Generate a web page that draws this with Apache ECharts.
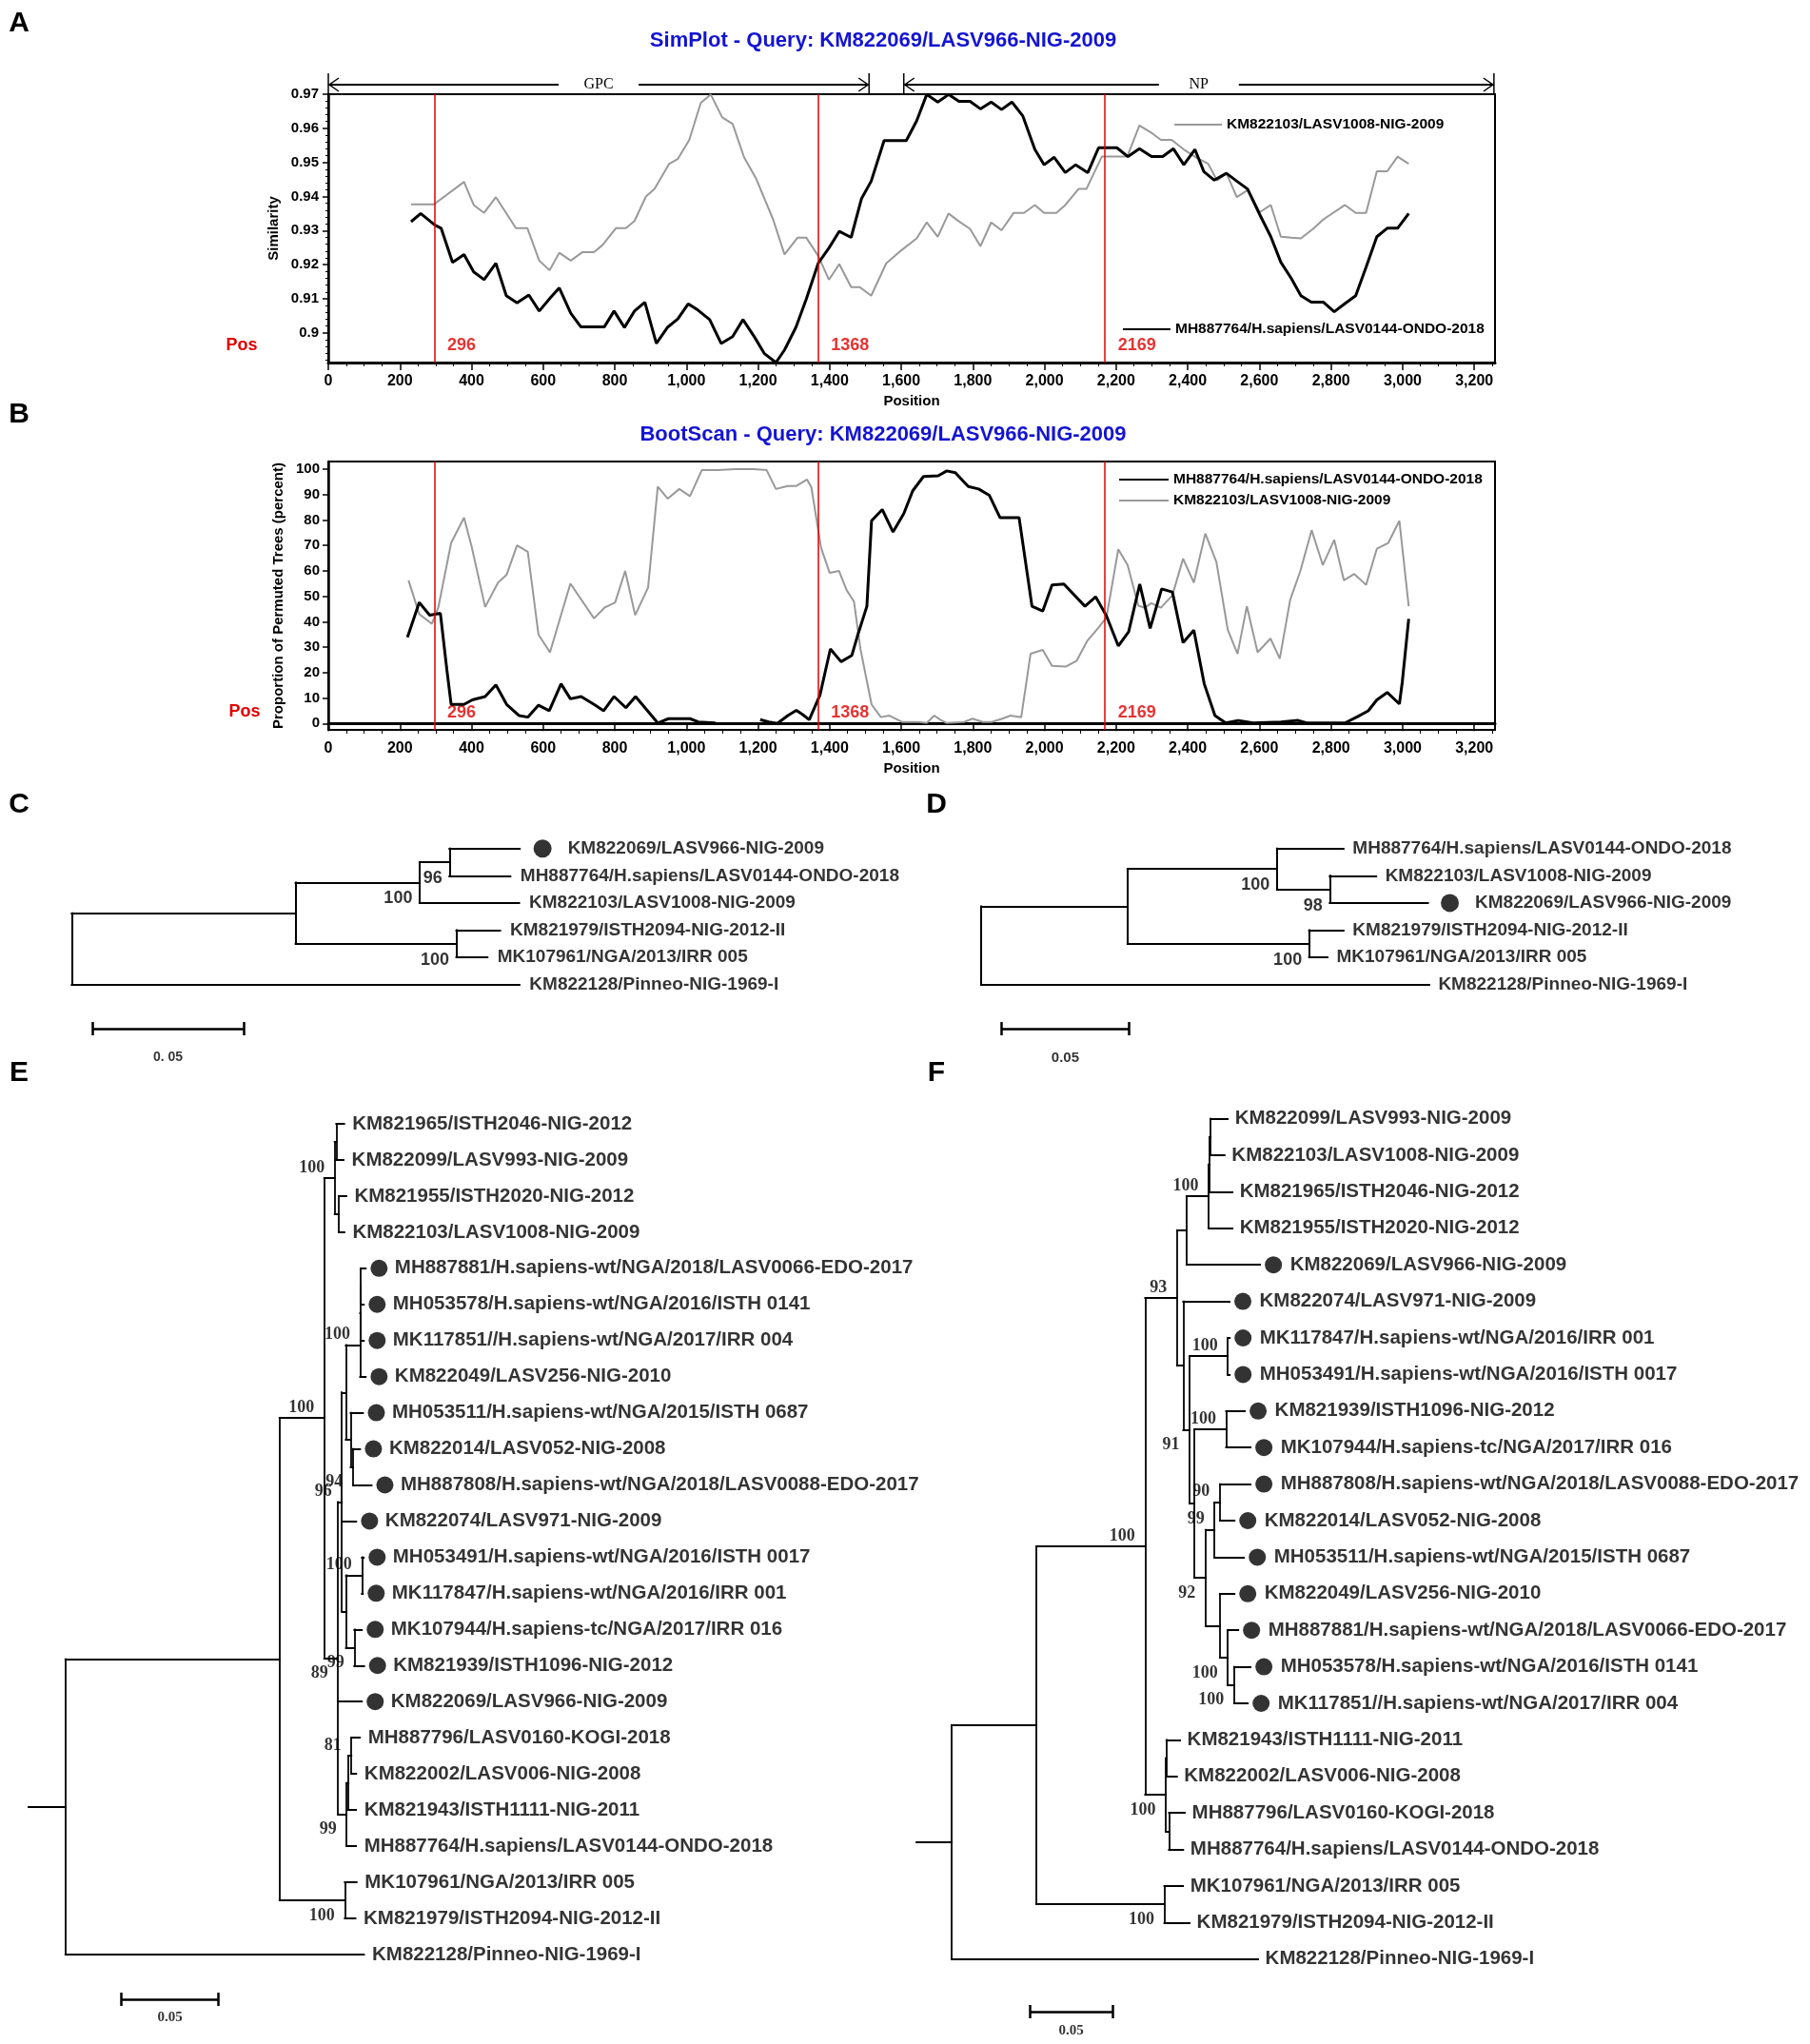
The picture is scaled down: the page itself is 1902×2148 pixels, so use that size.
<!DOCTYPE html>
<html>
<head>
<meta charset="utf-8">
<script src="https://cdn.jsdelivr.net/npm/echarts/dist/echarts.min.js"></script>
<style>
  html, body { margin: 0; padding: 0; background: #fff; }
  #chart { width: 1902px; height: 2148px; }
</style>
</head>
<body>
<div id="chart"></div>
<script>
// ---- data ----
const nameGray = 'KM822103/LASV1008-NIG-2009';
const nameBlack = 'MH887764/H.sapiens/LASV0144-ONDO-2018';

const posTicks = [0, 200, 400, 600, 800, 1000, 1200, 1400, 1600, 1800, 2000, 2200, 2400, 2600, 2800, 3000, 3200];
const simTicks = [0.9, 0.91, 0.92, 0.93, 0.94, 0.95, 0.96, 0.97];
const bootTicks = [0, 10, 20, 30, 40, 50, 60, 70, 80, 90, 100];
const breakpoints = [296, 1368, 2169];
const genes = [{ name: 'GPC', start: 0, end: 1510 }, { name: 'NP', start: 1607, end: 3255 }];

// SimPlot similarity, [position, similarity]
const simGray = [[231,.9377],[295,.9377],[379,.9443],[406,.9375],[435,.9352],[468,.9398],[524,.9307],[556,.9307],
  [589,.9212],[618,.9184],[645,.9235],[677,.9212],[710,.9237],[742,.9237],[766,.9258],[803,.9307],[831,.9307],
  [855,.9328],[887,.9400],[911,.9422],[952,.9496],[976,.9510],[1008,.9566],[1040,.9674],[1068,.9699],[1100,.9632],
  [1129,.9613],[1161,.9515],[1194,.9454],[1242,.9333],[1274,.9230],[1310,.9279],[1335,.9279],[1368,.9226],
  [1398,.9156],[1427,.9202],[1460,.9134],[1484,.9134],[1516,.9109],[1558,.9204],[1600,.9242],[1643,.9277],
  [1671,.9324],[1702,.9282],[1732,.9350],[1761,.9327],[1792,.9305],[1821,.9254],[1851,.9324],[1880,.9301],
  [1914,.9352],[1943,.9352],[1973,.9375],[1999,.9352],[2033,.9352],[2058,.9375],[2095,.9422],[2117,.9422],
  [2160,.9517],[2194,.9517],[2231,.9517],[2265,.9608],[2301,.9585],[2325,.9566],[2355,.9566],[2389,.9538],
  [2423,.9515],[2457,.9496],[2482,.9447],[2508,.9468],[2537,.9398],[2568,.9419],[2601,.9354],[2632,.9375],
  [2660,.9282],[2689,.9279],[2716,.9277],[2750,.9305],[2779,.9333],[2839,.9375],[2869,.9352],[2898,.9352],
  [2928,.9474],[2957,.9474],[2986,.9517],[3017,.9496]];
const simBlack = [[231,.9326],[258,.9350],[298,.9316],[315,.9307],[347,.9207],[379,.9230],[406,.9179],[435,.9156],
  [468,.9204],[497,.9109],[527,.9088],[560,.9111],[589,.9064],[621,.9104],[645,.9132],[677,.9058],[705,.9018],
  [742,.9018],[771,.9018],[798,.9064],[827,.9016],[855,.9064],[884,.9090],[916,.8969],[948,.9017],[976,.9041],
  [1005,.9085],[1032,.9067],[1065,.9039],[1097,.8969],[1129,.8989],[1158,.9039],[1190,.8988],[1218,.8939],
  [1250,.8913],[1274,.8950],[1306,.9017],[1335,.9100],[1368,.9204],[1398,.9249],[1427,.9298],[1460,.9280],
  [1489,.9394],[1516,.9445],[1552,.9564],[1614,.9564],[1643,.9622],[1671,.9699],[1702,.9677],[1732,.9699],
  [1761,.9679],[1792,.9679],[1821,.9657],[1851,.9677],[1880,.9655],[1909,.9677],[1939,.9637],[1973,.9538],
  [1999,.9493],[2027,.9515],[2058,.9470],[2087,.9493],[2121,.9470],[2151,.9543],[2202,.9543],[2233,.9517],
  [2265,.9540],[2299,.9517],[2330,.9517],[2360,.9540],[2389,.9493],[2420,.9538],[2445,.9473],[2474,.9448],
  [2508,.9468],[2537,.9445],[2567,.9422],[2601,.9347],[2632,.9282],[2660,.9207],[2689,.9160],[2716,.9109],
  [2745,.9090],[2779,.9090],[2809,.9062],[2839,.9086],[2869,.9109],[2898,.9193],[2928,.9282],[2957,.9307],
  [2986,.9307],[3017,.9350]];

// BootScan permuted trees (percent), [position, value]
const bootGray = [[224,56.3],[254,43.0],[289,39.2],[307,45.5],[343,71.0],[379,80.9],[400,69.7],[438,45.8],
  [474,55.4],[498,58.5],[527,70.0],[557,67.5],[587,34.9],[619,28.0],[676,55.0],[742,41.3],[771,45.5],[801,47.6],
  [829,60.0],[857,42.6],[893,53.5],[920,93.1],[948,88.4],[980,92.2],[1010,89.4],[1043,99.6],[1087,99.6],
  [1135,100],[1188,100],[1224,99.6],[1250,92.2],[1283,93.4],[1307,93.4],[1337,95.9],[1349,92.8],[1376,69.1],
  [1400,59.2],[1426,60.0],[1448,52.3],[1468,47.9],[1486,29.3],[1517,7.5],[1543,2.5],[1567,3.1],[1602,0.6],
  [1650,0.6],[1671,0.2],[1692,3.1],[1709,1.5],[1727,0.2],[1775,0.6],[1799,1.9],[1828,0.6],[1852,0.6],
  [1882,1.9],[1905,3.1],[1935,2.5],[1961,27.4],[1995,28.9],[2021,22.7],[2060,22.4],[2090,24.7],[2119,32.4],
  [2149,37.4],[2173,41.7],[2206,68.5],[2232,62.3],[2262,46.3],[2280,45.5],[2298,47.3],[2325,45.5],[2357,50.4],
  [2387,64.8],[2417,55.4],[2449,74.7],[2480,63.5],[2512,36.7],[2539,27.4],[2565,46.1],[2595,28.0],[2631,33.4],
  [2657,25.5],[2686,48.6],[2714,59.8],[2746,76.0],[2777,62.3],[2809,72.2],[2836,56.3],[2865,58.8],[2898,54.5],
  [2928,68.7],[2960,71.0],[2991,79.7],[3017,46.1]];
const bootBlack = [[221,33.9],[254,47.6],[283,42.6],[313,43.3],[331,21.2],[343,7.5],[379,7.5],[402,9.3],
  [438,10.6],[468,15.2],[498,7.5],[533,3.1],[557,2.5],[587,7.2],[617,5.0],[650,15.6],[676,9.7],[706,10.6],
  [742,7.5],[769,5.0],[798,10.6],[831,6.2],[858,10.6],[920,0.2],[950,1.9],[1010,1.9],[1033,0.6],[1081,0.2],
  [1140,null],[1206,1.5],[1230,0.6],[1254,0],[1283,3.1],[1307,5.2],[1325,3.5],[1343,1.5],[1373,11.2],
  [1402,29.3],[1432,24.3],[1462,26.8],[1480,35.5],[1504,46.1],[1517,79.7],[1547,84.1],[1577,75.3],[1607,82.5],
  [1632,91.5],[1662,97.1],[1703,97.4],[1727,99.3],[1751,98.6],[1787,93.2],[1816,92.2],[1846,89.7],[1876,80.9],
  [1929,80.9],[1965,46.1],[1995,44.2],[2021,54.5],[2054,54.8],[2113,46.1],[2143,49.8],[2173,42.3],[2206,30.5],
  [2235,36.1],[2266,54.8],[2295,37.4],[2327,52.9],[2357,51.7],[2387,31.8],[2417,36.7],[2446,15.6],[2476,3.1],
  [2506,0.2],[2541,1.2],[2583,0.2],[2660,0.6],[2708,1.2],[2732,0.2],[2839,0.2],[2874,2.7],[2904,5.0],
  [2928,9.3],[2957,12.2],[2991,7.7],[2999,16.2],[3017,41.1]];

// trees, Newick with branch lengths; '*' marks the dotted sequences
const scaleLen = 0.05;
const treeC = '((((*KM822069/LASV966-NIG-2009:0.0233,MH887764/H.sapiens/LASV0144-ONDO-2018:0.0202)96:0.0099,' +
  'KM822103/LASV1008-NIG-2009:0.0330)100:0.0411,' +
  '(KM821979/ISTH2094-NIG-2012-II:0.0145,MK107961/NGA/2013/IRR 005:0.0103)100:0.0533):0.0742,' +
  'KM822128/Pinneo-NIG-1969-I:0.1484);';
const treeD = '(((MH887764/H.sapiens/LASV0144-ONDO-2018:0.0261,' +
  '(KM822103/LASV1008-NIG-2009:0.0182,*KM822069/LASV966-NIG-2009:0.0385)98:0.0207)100:0.0586,' +
  '(KM821979/ISTH2094-NIG-2012-II:0.0135,MK107961/NGA/2013/IRR 005:0.0072)100:0.0712):0.0574,' +
  'KM822128/Pinneo-NIG-1969-I:0.1757);';
const treeE = '(((' +
  '((KM821965/ISTH2046-NIG-2012:0.0041,KM822099/LASV993-NIG-2009:0.0038):0.0008,' +
  '(KM821955/ISTH2020-NIG-2012:0.0039,KM822103/LASV1008-NIG-2009:0.0029):0.0021)100:0.0054,' +
  '(((' +
  '(((*MH887881/H.sapiens-wt/NGA/2018/LASV0066-EDO-2017:0.0025,*MH053578/H.sapiens-wt/NGA/2016/ISTH 0141:0.0015):0.0002,' +
  '*MK117851//H.sapiens-wt/NGA/2017/IRR 004:0.0017):0.0002,*KM822049/LASV256-NIG-2010:0.0029)100:0.0074,' +
  '(*MH053511/H.sapiens-wt/NGA/2015/ISTH 0687:0.0064,(*KM822014/LASV052-NIG-2008:0.0037,' +
  '*MH887808/H.sapiens-wt/NGA/2018/LASV0088-EDO-2017:0.0096)94:0.0012):0.0025' +
  '):0.0020,' +
  '*KM822074/LASV971-NIG-2009:0.0074,' +
  '((*MH053491/H.sapiens-wt/NGA/2016/ISTH 0017:0.0010,*MK117847/H.sapiens-wt/NGA/2016/IRR 001:0.0005)100:0.0082,' +
  '(*MK107944/H.sapiens-tc/NGA/2017/IRR 016:0.0039,*KM821939/ISTH1096-NIG-2012:0.0051)99:0.0043):0.0021' +
  ')96:0.0020,' +
  '*KM822069/LASV966-NIG-2009:0.0123,' +
  '(((MH887796/LASV0160-KOGI-2018:0.0044,KM822002/LASV006-NIG-2008:0.0025)81:0.0015,' +
  'KM821943/ISTH1111-NIG-2011:0.0039):0.0010,MH887764/H.sapiens/LASV0144-ONDO-2018:0.0049)99:0.0044' +
  ')89:0.0071' +
  ')100:0.0230,' +
  '(MK107961/NGA/2013/IRR 005:0.0061,KM821979/ISTH2094-NIG-2012-II:0.0055)100:0.0336' +
  '):0.1103,KM822128/Pinneo-NIG-1969-I:0.1538):0.019;';
const treeF = '(((((' +
  '(((KM822099/LASV993-NIG-2009:0.0104,KM822103/LASV1008-NIG-2009:0.0085):0.0006,' +
  'KM821965/ISTH2046-NIG-2012:0.0139):0.0006,KM821955/ISTH2020-NIG-2012:0.0145)100:0.0135,' +
  '*KM822069/LASV966-NIG-2009:0.0448' +
  '):0.0058,(' +
  '*KM822074/LASV971-NIG-2009:0.0282,(' +
  '(*MK117847/H.sapiens-wt/NGA/2016/IRR 001:0.0012,*MH053491/H.sapiens-wt/NGA/2016/ISTH 0017:0.0012)100:0.0232,(' +
  '(*KM821939/ISTH1096-NIG-2012:0.0114,*MK107944/H.sapiens-tc/NGA/2017/IRR 016:0.0149)100:0.0193,(' +
  '((*MH887808/H.sapiens-wt/NGA/2018/LASV0088-EDO-2017:0.0187,*KM822014/LASV052-NIG-2008:0.0089)90:0.0033,' +
  '*MH053511/H.sapiens-wt/NGA/2015/ISTH 0687:0.0180)99:0.0054,' +
  '(*KM822049/LASV256-NIG-2010:0.0089,(*MH887881/H.sapiens-wt/NGA/2018/LASV0066-EDO-2017:0.0064,' +
  '(*MH053578/H.sapiens-wt/NGA/2016/ISTH 0141:0.0100,*MK117851//H.sapiens-wt/NGA/2017/IRR 004:0.0083)100:0.0039)100:0.0048):0.0087' +
  ')92:0.0068' +
  '):0.0029' +
  ')91:0.0039' +
  '):0.0038' +
  ')93:0.0194,' +
  '((KM821943/ISTH1111-NIG-2011:0.0083,KM822002/LASV006-NIG-2008:0.0064):0.0004,' +
  '(MH887796/LASV0160-KOGI-2018:0.0097,MH887764/H.sapiens/LASV0144-ONDO-2018:0.0087):0.0019)100:0.0126' +
  ')100:0.0662,' +
  '(MK107961/NGA/2013/IRR 005:0.0114,KM821979/ISTH2094-NIG-2012-II:0.0154)100:0.0779' +
  '):0.0516,KM822128/Pinneo-NIG-1969-I:0.1866):0.0214;';

// ---- layout ----
const SANS = 'Liberation Sans';
const SERIF = 'Liberation Serif';
const RED = '#e00000';

const treeCfg = [
  { newick: treeC, rootPx: 75.4, ppu: 3170, leaf1: 891.7, gap: 28.6, padL: 30, w: 900, lineW: 2,
    font: 19, family: SANS, dot: 19, dotOff: 24, textDot: 50, textOff: 10,
    bootFamily: SANS, bootSize: 18, bootBelow: true, bootDx: 7,
    bar: [0.0069, 7.62], barLabel: '0. 05', barFamily: SANS, barSize: 14, barGap: 23 },
  { newick: treeD, rootPx: 1031, ppu: 2680, leaf1: 891.7, gap: 28.6, padL: 30, w: 860, lineW: 2,
    font: 19, family: SANS, dot: 19, dotOff: 23, textDot: 49, textOff: 9,
    bootFamily: SANS, bootSize: 18, bootBelow: true, bootDx: 7,
    bar: [0.008, 7.62], barLabel: '0.05', barFamily: SANS, barSize: 15, barGap: 23 },
  { newick: treeE, rootPx: 68.75, ppu: 2040, leaf1: 1181, gap: 37.95, padL: 50, w: 700, lineW: 1.8,
    font: 20.5, family: SANS, dot: 18, dotOff: 14, textDot: 30, textOff: 8,
    bootFamily: SERIF, bootSize: 18, bootBelow: false, bootDx: 10,
    bar: [0.0288, 25.24], barLabel: '0.05', barFamily: SERIF, barSize: 15, barGap: 11 },
  { newick: treeF, rootPx: 1000, ppu: 1726, leaf1: 1175.6, gap: 38.4, padL: 50, w: 700, lineW: 1.8,
    font: 20.5, family: SANS, dot: 18, dotOff: 14, textDot: 31, textOff: 7,
    bootFamily: SERIF, bootSize: 18, bootBelow: false, bootDx: 10,
    bar: [0.0478, 25.44], barLabel: '0.05', barFamily: SERIF, barSize: 15, barGap: 12 }
];

function parseNewick(s) {
  let i = 0;
  function node() {
    const n = { children: [] };
    if (s[i] === '(') {
      i++;
      n.children.push(node());
      while (s[i] === ',') { i++; n.children.push(node()); }
      i++;
    }
    let label = '';
    while (i < s.length && ':,);'.indexOf(s[i]) < 0) label += s[i++];
    label = label.trim();
    n.len = 0;
    if (s[i] === ':') {
      i++;
      let num = '';
      while (i < s.length && ',);'.indexOf(s[i]) < 0) num += s[i++];
      n.len = parseFloat(num);
    }
    if (n.children.length) {
      n.support = label;
    } else {
      n.marked = label[0] === '*';
      n.name = n.marked ? label.slice(1) : label;
    }
    return n;
  }
  return node();
}

function layoutTree(root) {
  const leaves = [], inner = [], segs = [];
  let k = 0;
  (function walk(n, x, parent) {
    n.x = x;
    n.parent = parent;
    if (!n.children.length) {
      n.y = ++k;
      leaves.push(n);
      return;
    }
    n.children.forEach(c => walk(c, x + c.len, n));
    const a = n.children[0], b = n.children[n.children.length - 1];
    n.y = (a.y + b.y) / 2;
    segs.push([[x, a.y], [x, b.y]]);
    inner.push(n);
  })(root, 0, null);
  leaves.concat(inner).forEach(n => {
    if (n.parent) segs.push([[n.parent.x, n.y], [n.x, n.y]]);
  });
  if (root.len) segs.push([[-root.len, root.y], [0, root.y]]);
  return { leaves, inner, segs };
}

const grids = [
  { left: 345, top: 99, width: 1226, height: 282, show: true, borderColor: '#000', borderWidth: 2 },
  { left: 345, top: 485, width: 1226, height: 282, show: true, borderColor: '#000', borderWidth: 2 }
];

const minorPos = [];
for (let v = 0; v <= 3250; v += 50) if (v % 200) minorPos.push(v);
const minorSim = [];
for (let v = 892; v <= 970; v += 2) if (v % 10) minorSim.push(v / 1000);

function posAxis(gi, gap) {
  return {
    type: 'value', gridIndex: gi, min: 0, max: 3258, position: 'bottom',
    axisLine: { show: true, lineStyle: { color: '#000', width: 3 } },
    axisTick: { show: true, customValues: posTicks, length: 8, lineStyle: { color: '#000', width: 1.5 } },
    axisLabel: { customValues: posTicks, margin: 12, color: '#000', fontSize: 16, fontWeight: 'bold', fontFamily: SANS },
    splitLine: { show: false },
    name: 'Position', nameLocation: 'middle', nameGap: gap,
    nameTextStyle: { color: '#000', fontSize: 15, fontWeight: 'bold', fontFamily: SANS }
  };
}
function minorAxis(gi) {
  return {
    type: 'value', gridIndex: gi, min: 0, max: 3258, position: 'bottom',
    axisLine: { show: false },
    axisTick: { show: true, customValues: minorPos, length: 4, lineStyle: { color: '#000', width: 1 } },
    axisLabel: { show: false }, splitLine: { show: false }
  };
}

const xAxes = [posAxis(0, 33), minorAxis(0), posAxis(1, 33), minorAxis(1)];
const yAxes = [
  {
    type: 'value', gridIndex: 0, min: 0.8913, max: 0.97, position: 'left',
    axisLine: { show: true, lineStyle: { color: '#000', width: 2.5 } },
    axisTick: { show: true, customValues: simTicks, length: 6, lineStyle: { color: '#000', width: 1.5 } },
    axisLabel: { customValues: simTicks, margin: 10, color: '#000', fontSize: 15, fontWeight: 'bold', fontFamily: SANS },
    splitLine: { show: false },
    name: 'Similarity', nameLocation: 'middle', nameRotate: 90, nameGap: 48,
    nameTextStyle: { color: '#000', fontSize: 15, fontWeight: 'bold', fontFamily: SANS }
  },
  {
    type: 'value', gridIndex: 0, min: 0.8913, max: 0.97, position: 'left',
    axisLine: { show: false },
    axisTick: { show: true, customValues: minorSim, length: 3, lineStyle: { color: '#000', width: 1 } },
    axisLabel: { show: false }, splitLine: { show: false }
  },
  {
    type: 'value', gridIndex: 1, min: -2.5, max: 103, position: 'left',
    axisLine: { show: true, lineStyle: { color: '#000', width: 2.5 } },
    axisTick: { show: true, customValues: bootTicks, length: 6, lineStyle: { color: '#000', width: 1.5 } },
    axisLabel: { customValues: bootTicks, margin: 9, color: '#000', fontSize: 15, fontWeight: 'bold', fontFamily: SANS },
    splitLine: { show: false },
    name: 'Proportion of Permuted Trees (percent)', nameLocation: 'middle', nameRotate: 90, nameGap: 44,
    nameTextStyle: { color: '#000', fontSize: 15, fontWeight: 'bold', fontFamily: SANS }
  }
];

function plotSeries(xi, yi, gray, black, yMin) {
  return [
    { type: 'line', name: nameGray, xAxisIndex: xi, yAxisIndex: yi, data: gray, symbol: 'none',
      lineStyle: { color: '#999999', width: 2 }, itemStyle: { color: '#999999' }, z: 3 },
    { type: 'line', name: nameBlack, xAxisIndex: xi, yAxisIndex: yi, data: black, symbol: 'none',
      lineStyle: { color: '#000', width: 3 }, itemStyle: { color: '#000' }, z: 4,
      markLine: { silent: true, symbol: ['none', 'none'], label: { show: false },
        lineStyle: { color: RED, width: 1.5, type: 'solid' },
        data: breakpoints.map(b => ({ xAxis: b })) } },
    { type: 'scatter', xAxisIndex: xi, yAxisIndex: yi, symbolSize: 1, clip: false, silent: true,
      itemStyle: { color: 'rgba(0,0,0,0)' },
      label: { show: true, position: 'right', distance: 13, offset: [0, -18], formatter: '{b}',
        color: RED, fontSize: 18, fontWeight: 'bold', fontFamily: SANS },
      data: breakpoints.map(b => ({ name: String(b), value: [b, yMin] })) }
  ];
}

const series = [].concat(plotSeries(0, 0, simGray, simBlack, 0.8913), plotSeries(2, 2, bootGray, bootBlack, -2.5));

treeCfg.forEach((t, ti) => {
  const gi = 2 + ti, xi = 4 + ti, yi = 3 + ti;
  const root = parseNewick(t.newick);
  const L = layoutTree(root);
  const n = L.leaves.length;
  grids.push({ left: t.rootPx - t.padL, top: t.leaf1 - t.gap, width: t.w, height: t.gap * (n + 2) });
  xAxes.push({ type: 'value', gridIndex: gi, show: false, min: -t.padL / t.ppu, max: (t.w - t.padL) / t.ppu });
  yAxes.push({ type: 'value', gridIndex: gi, show: false, inverse: true, min: 0, max: n + 2 });

  const bx = t.bar[0], by = t.bar[1], h = 7 / t.gap;
  series.push({
    type: 'lines', coordinateSystem: 'cartesian2d', xAxisIndex: xi, yAxisIndex: yi, silent: true,
    lineStyle: { color: '#000', width: t.lineW, opacity: 1, cap: 'square' },
    data: L.segs.map(c => ({ coords: c })), z: 3
  });
  series.push({
    type: 'lines', coordinateSystem: 'cartesian2d', xAxisIndex: xi, yAxisIndex: yi, silent: true,
    lineStyle: { color: '#000', width: 2.5, opacity: 1 },
    data: [
      { coords: [[bx, by], [bx + scaleLen, by]] },
      { coords: [[bx, by - h], [bx, by + h]] },
      { coords: [[bx + scaleLen, by - h], [bx + scaleLen, by + h]] }
    ], z: 3
  });
  series.push({
    type: 'scatter', xAxisIndex: xi, yAxisIndex: yi, silent: true, clip: false,
    symbol: 'circle', symbolSize: t.dot, symbolOffset: [t.dotOff, 0], itemStyle: { color: '#000' },
    data: L.leaves.filter(l => l.marked).map(l => [l.x, l.y]), z: 4
  });
  series.push({
    type: 'scatter', xAxisIndex: xi, yAxisIndex: yi, silent: true, clip: false,
    symbolSize: 1, itemStyle: { color: 'rgba(0,0,0,0)' },
    label: { show: true, position: 'right', formatter: '{b}', color: '#000',
      fontSize: t.font, fontWeight: 'bold', fontFamily: t.family },
    data: L.leaves.map(l => ({ name: l.name, value: [l.x, l.y],
      label: { distance: l.marked ? t.textDot : t.textOff } })), z: 5
  });
  series.push({
    type: 'scatter', xAxisIndex: xi, yAxisIndex: yi, silent: true, clip: false,
    symbolSize: 1, itemStyle: { color: 'rgba(0,0,0,0)' },
    label: { show: true, position: 'left', distance: t.bootDx, formatter: '{b}', color: '#000',
      fontSize: t.bootSize, fontWeight: 'bold', fontFamily: t.bootFamily },
    data: L.inner.filter(c => c.support).map(c => {
      const first = c.parent && c.parent.children[0] === c;
      const dy = t.bootBelow ? 17 : (first ? -11 : 16);
      return { name: c.support, value: [c.x, c.y], label: { offset: [0, dy] } };
    }), z: 5
  });
  series.push({
    type: 'scatter', xAxisIndex: xi, yAxisIndex: yi, silent: true, clip: false,
    symbolSize: 1, itemStyle: { color: 'rgba(0,0,0,0)' },
    label: { show: true, position: 'bottom', distance: t.barGap, formatter: '{b}', color: '#000',
      fontSize: t.barSize, fontWeight: 'bold', fontFamily: t.barFamily },
    data: [{ name: t.barLabel, value: [bx + scaleLen / 2, by] }], z: 5
  });
});

const legendText = { color: '#000', fontSize: 15.5, fontWeight: 'bold', fontFamily: SANS };
const legendBase = { itemWidth: 50, itemHeight: 14, selectedMode: false, textStyle: legendText,
  itemStyle: { opacity: 0 } };
const option = {
  animation: false,
  backgroundColor: '#fff',
  textStyle: { fontFamily: SANS },
  grid: grids,
  xAxis: xAxes,
  yAxis: yAxes,
  legend: [
    Object.assign({ data: [nameGray], left: 1228, top: 118 }, legendBase),
    Object.assign({ data: [nameBlack], left: 1174, top: 333 }, legendBase),
    Object.assign({ data: [nameBlack, nameGray], orient: 'vertical', left: 1170, top: 491, itemGap: 6 }, legendBase,
      { itemWidth: 52 })
  ],
  series: series
};

const chart = echarts.init(document.getElementById('chart'));
chart.setOption(option);

// annotations placed through the SimPlot axes
const els = [];
function txt(text, x, y, font, fill, align) {
  els.push({ type: 'text', silent: true, x: x, y: y,
    style: { text: text, font: font, fill: fill || '#000', align: align || 'center', verticalAlign: 'middle' } });
}
function seg(x1, y1, x2, y2, w) {
  els.push({ type: 'line', silent: true, shape: { x1, y1, x2, y2 }, style: { stroke: '#000', lineWidth: w || 2 } });
}
const toPx = v => chart.convertToPixel({ xAxisIndex: 0, yAxisIndex: 0 }, [v, 0.95])[0];
const yArrow = 89, yBarTop = 77, yBarBot = 99;
genes.forEach(g => {
  const x0 = toPx(g.start), x1 = toPx(g.end), xc = (x0 + x1) / 2;
  seg(x0, yBarTop, x0, yBarBot, 1.5);
  seg(x1, yBarTop, x1, yBarBot, 1.5);
  seg(x0, yArrow, xc - 42, yArrow, 2);
  seg(xc + 42, yArrow, x1, yArrow, 2);
  els.push({ type: 'polyline', silent: true, shape: { points: [[x0 + 11, yArrow - 7], [x0 + 1, yArrow], [x0 + 11, yArrow + 7]] },
    style: { stroke: '#000', lineWidth: 1.5, fill: null } });
  els.push({ type: 'polyline', silent: true, shape: { points: [[x1 - 11, yArrow - 7], [x1 - 1, yArrow], [x1 - 11, yArrow + 7]] },
    style: { stroke: '#000', lineWidth: 1.5, fill: null } });
  txt(g.name, xc, yArrow, '16px "' + SERIF + '"');
});

const titleFont = 'bold 22px "' + SANS + '"';
txt('SimPlot - Query: KM822069/LASV966-NIG-2009', 928, 43, titleFont, '#1414d2');
txt('BootScan - Query: KM822069/LASV966-NIG-2009', 928, 457, titleFont, '#1414d2');
txt('Pos', 254, 363, 'bold 18px "' + SANS + '"', RED);
txt('Pos', 257, 748, 'bold 18px "' + SANS + '"', RED);
const letterFont = 'bold 30px "' + SANS + '"';
[['A', 20, 25], ['B', 20, 436], ['C', 20, 846], ['D', 984, 846], ['E', 20, 1128], ['F', 984, 1128]]
  .forEach(l => txt(l[0], l[1], l[2], letterFont));

chart.setOption({ graphic: { elements: els } });
</script>
</body>
</html>
